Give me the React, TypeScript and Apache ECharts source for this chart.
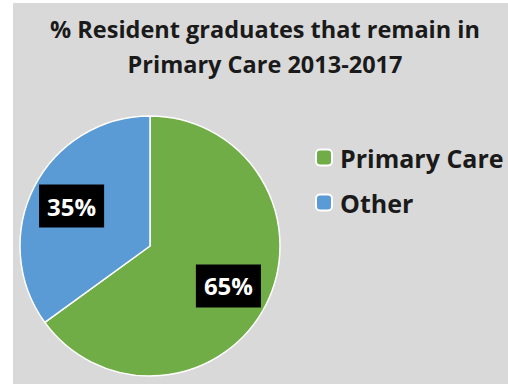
import React, { useEffect, useRef } from "react";
import * as echarts from "echarts";

const titleLines = ["% Resident graduates that remain in", "Primary Care 2013-2017"];
const categories = ["Primary Care", "Other"];
const values = [65, 35];
const colors = ["#70AD47", "#5B9BD5"];

const FONT = "Open Sans";
const CX = 150;
const CY = 246;
const R = 130;

export default function App() {
  const ref = useRef<HTMLDivElement>(null);
  useEffect(() => {
    if (!ref.current) return;
    const chart = echarts.init(ref.current, undefined, { renderer: "svg" });
    const pieData = categories.map((name, i) => ({
      name,
      value: values[i],
      itemStyle: { color: colors[i] },
    }));
    chart.setOption({
      animation: false,
      backgroundColor: "#ffffff",
      graphic: [
        {
          type: "rect",
          left: 13,
          top: 3,
          z: -10,
          silent: true,
          shape: { width: 495, height: 381 },
          style: { fill: "#D9D9D9" },
        },
      ],
      title: {
        text: titleLines.join("\n"),
        left: 260,
        top: 6,
        textAlign: "center",
        textStyle: {
          fontFamily: FONT,
          fontWeight: "bold",
          fontSize: 23.5,
          lineHeight: 35,
          color: "#1a1a1a",
        },
      },
      legend: {
        orient: "vertical",
        left: 315,
        top: 145,
        padding: 0,
        itemWidth: 16,
        itemHeight: 16,
        itemGap: 20,
        data: categories,
        textStyle: {
          fontFamily: FONT,
          fontWeight: "bold",
          fontSize: 25,
          lineHeight: 24,
          color: "#1a1a1a",
          padding: [0, 0, 0, 3],
        },
      },
      series: [
        {
          type: "pie",
          center: [CX, CY],
          radius: R,
          startAngle: 90,
          clockwise: true,
          silent: true,
          itemStyle: { borderColor: "#ffffff", borderWidth: 1.5 },
          label: { show: false },
          labelLine: { show: false },
          data: pieData,
        },
        {
          type: "pie",
          center: [CX, CY],
          radius: [40, R],
          startAngle: 90,
          clockwise: true,
          silent: true,
          z: 3,
          itemStyle: { color: "rgba(0,0,0,0)", borderWidth: 0 },
          label: {
            show: true,
            position: "inside",
            formatter: "{c}%",
            fontFamily: FONT,
            fontWeight: "bold",
            fontSize: 24,
            lineHeight: 29,
            color: "#ffffff",
            backgroundColor: "#000000",
            padding: [7, 8, 7, 8],
          },
          labelLine: { show: false },
          data: categories.map((name, i) => ({
            name,
            value: values[i],
            itemStyle: { color: "rgba(0,0,0,0)" },
          })),
        },
      ],
    });
    return () => chart.dispose();
  }, []);
  return (
    <div
      ref={ref}
      style={{ position: "fixed", left: 0, top: 0, width: 508, height: 384 }}
    />
  );
}
